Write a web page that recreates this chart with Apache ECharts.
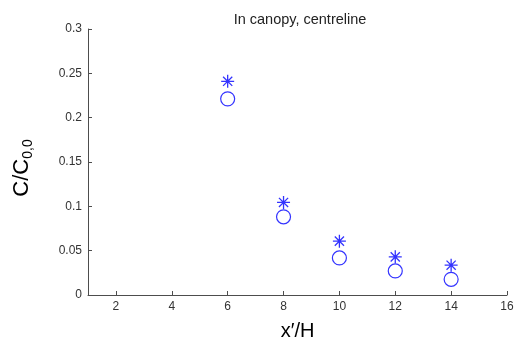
<!DOCTYPE html>
<html><head><meta charset="utf-8">
<script src="https://cdn.jsdelivr.net/npm/echarts@6/dist/echarts.min.js"></script>
<style>html,body{margin:0;padding:0;background:#fff}#c{width:515px;height:340px}</style>
</head><body><div id="c"></div>
<script>
const xPositions = [6, 8, 10, 12, 14];
const starValues = [0.241, 0.1044, 0.0607, 0.043, 0.0336];
const circleValues = [0.2212, 0.0882, 0.0418, 0.0271, 0.0177];
const xTicks = [2, 4, 6, 8, 10, 12, 14, 16];
const titleText = 'In canopy, centreline';

const chart = echarts.init(document.getElementById('c'), null, {renderer: 'canvas'});
const axisColor = '#4d4d4d';
const font = 'Liberation Sans, Arial, sans-serif';
chart.setOption({
  animation: false,
  title: {text: titleText, left: 295, top: 7, textAlign: 'center',
    textStyle: {fontSize: 14.5, fontWeight: 'normal', color: '#222', fontFamily: font}},
  grid: {left: 88, right: 8, top: 29, bottom: 45, outerBoundsMode: 'none', containLabel: false},
  xAxis: {
    type: 'value', min: 1, max: 16,
    axisLine: {lineStyle: {color: axisColor, width: 1}},
    axisTick: {inside: true, length: 4, lineStyle: {color: axisColor}, customValues: xTicks},
    axisLabel: {color: '#333', fontSize: 12, fontFamily: font, margin: 6, customValues: xTicks},
    splitLine: {show: false},
    name: 'x\u2032/H', nameLocation: 'middle', nameGap: 26,
    nameTextStyle: {fontSize: 20, color: '#000', fontFamily: font}
  },
  yAxis: {
    type: 'value', min: 0, max: 0.3, interval: 0.05,
    axisLine: {show: true, lineStyle: {color: axisColor, width: 1}},
    axisTick: {show: true, inside: true, length: 4, lineStyle: {color: axisColor}},
    axisLabel: {color: '#333', fontSize: 12, fontFamily: font, margin: 6,
      formatter: v => String(parseFloat(v.toFixed(2)))},
    splitLine: {show: false},
    name: '{a|C/C}{s|0,0}', nameLocation: 'middle', nameGap: 53, nameRotate: 90,
    nameTextStyle: {rich: {
      a: {fontSize: 22, color: '#000', fontFamily: font},
      s: {fontSize: 14, color: '#000', fontFamily: font, padding: [12, 12, 0, 0]}
    }}
  },
  series: [
    {type: 'scatter', data: xPositions.map((x, i) => [x, starValues[i]]),
     symbol: 'path://M0,-10L0,10M-10,0L10,0M-7.07,-7.07L7.07,7.07M-7.07,7.07L7.07,-7.07',
     symbolSize: 13,
     itemStyle: {color: 'none', borderColor: '#0000ff', borderWidth: 1.3}},
    {type: 'scatter', data: xPositions.map((x, i) => [x, circleValues[i]]),
     symbol: 'circle', symbolSize: 14,
     itemStyle: {color: 'none', borderColor: '#0000ff', borderWidth: 1.2}}
  ]
});
</script></body></html>
